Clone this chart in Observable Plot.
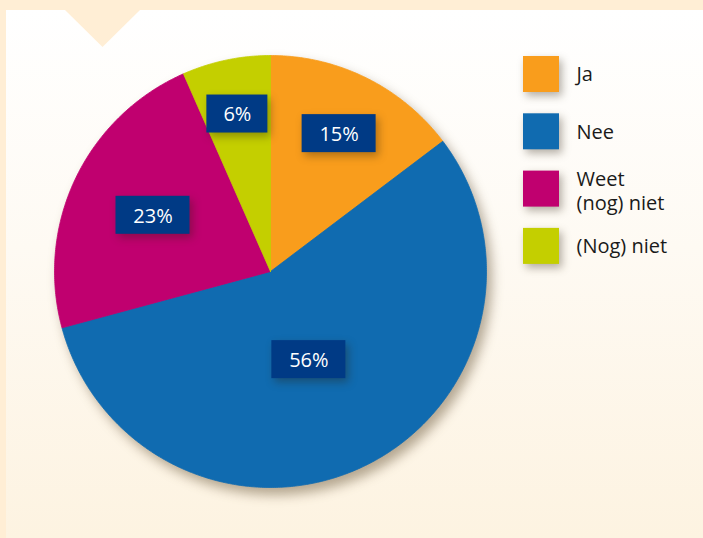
<!DOCTYPE html>
<html>
<head>
<meta charset="utf-8">
<script src="https://cdn.jsdelivr.net/npm/d3@7"></script>
<script src="https://cdn.jsdelivr.net/npm/@observablehq/plot@0.6"></script>
<style>
  body { margin: 0; background: #FFEED5; }
  #frame { position: relative; width: 703px; height: 538px; background: #FFEED5; overflow: hidden; font-family: "Open Sans", sans-serif; }
  #panel { position: absolute; left: 6px; top: 10px; right: 0; bottom: 0; background: linear-gradient(#FFFFFF 0%, #FEFAF3 45%, #FDF3E1 100%); }
  #notch { position: absolute; left: 65px; top: 10px; width: 75px; height: 37px; background: #FFEED5; clip-path: polygon(0 0, 100% 0, 50% 100%); }
  #chart { position: absolute; left: 0; top: 0; }
  #chart svg { background: transparent !important; }
  #chart g[aria-label="line"] { filter: drop-shadow(5px 7px 6px rgba(90, 70, 40, 0.45)); }
  #chart g[aria-label="rect"] { filter: drop-shadow(3px 4px 4px rgba(40, 30, 10, 0.35)); }
</style>
</head>
<body>
<div id="frame">
  <div id="panel"></div>
  <div id="notch"></div>
  <div id="chart"></div>
</div>
<script>
// ---- data ----
const categories = ["Ja", "Nee", "Weet (nog) niet", "(Nog) niet"];
const legendLabels = ["Ja", "Nee", "Weet\n(nog) niet", "(Nog) niet"];
const values = [14.7, 56.1, 22.6, 6.6];           // slice sizes as drawn
const valueLabels = ["15%", "56%", "23%", "6%"];  // printed labels
const colors = ["#F99D1C", "#106BB0", "#C0006F", "#C4CF00"];

// ---- layout ----
const W = 703, H = 538;
const CX = 270, CY = 271, R = 216;
const labelRadius = [0.713, 0.445, 0.603, 0.745];
const labelAngleShift = [0, 0.045, 0, 0]; // radians, small per-label nudge
const boxH = 38;
const LX = 523, LY0 = 56, LSTEP = 57.3, LSIZE = 36;

const arcs = d3.pie().sort(null).value(d => d)(values);

// slice outlines
const slicePts = [];
arcs.forEach((a, i) => {
  const cat = categories[i];
  slicePts.push({cat, x: CX, y: CY});
  const n = Math.max(2, Math.ceil((a.endAngle - a.startAngle) / (Math.PI / 360)));
  for (let k = 0; k <= n; k++) {
    const t = a.startAngle + (a.endAngle - a.startAngle) * k / n;
    slicePts.push({cat, x: CX + R * Math.sin(t), y: CY - R * Math.cos(t)});
  }
  slicePts.push({cat, x: CX, y: CY});
});

// value labels
const labels = arcs.map((a, i) => {
  const m = (a.startAngle + a.endAngle) / 2 + labelAngleShift[i];
  const r = R * labelRadius[i];
  const x = CX + r * Math.sin(m), y = CY - r * Math.cos(m);
  const w = 35 + 13 * valueLabels[i].length;
  return {text: valueLabels[i], x, y, x1: x - w / 2, x2: x + w / 2, y1: y - boxH / 2, y2: y + boxH / 2};
});

// legend
const legend = categories.map((c, i) => ({
  cat: c, label: legendLabels[i],
  x1: LX, x2: LX + LSIZE, y1: LY0 + i * LSTEP, y2: LY0 + i * LSTEP + LSIZE,
  tx: LX + 53, ty: LY0 + i * LSTEP + LSIZE / 2 + (legendLabels[i].includes("\n") ? 1 : -1)
}));

const chart = Plot.plot({
  width: W, height: H, margin: 0,
  x: {domain: [0, W], range: [0, W], axis: null},
  y: {domain: [0, H], range: [0, H], axis: null},
  color: {domain: categories, range: colors},
  style: {background: "transparent", fontFamily: "'Open Sans', sans-serif"},
  marks: [
    Plot.line(slicePts, {x: "x", y: "y", z: "cat", fill: "cat", stroke: "cat", strokeWidth: 0.8}),
    Plot.rect(labels, {x1: "x1", x2: "x2", y1: "y1", y2: "y2", fill: "#003A85"}),
    Plot.text(labels, {x: "x", y: "y", text: "text", fill: "white", fontSize: 20, dy: 1}),
    Plot.rect(legend, {x1: "x1", x2: "x2", y1: "y1", y2: "y2", fill: "cat"}),
    Plot.text(legend, {x: "tx", y: "ty", text: "label", fill: "#1a1a1a", fontSize: 20, textAnchor: "start", lineHeight: 1.22})
  ]
});
document.getElementById("chart").appendChild(chart);
</script>
</body>
</html>
